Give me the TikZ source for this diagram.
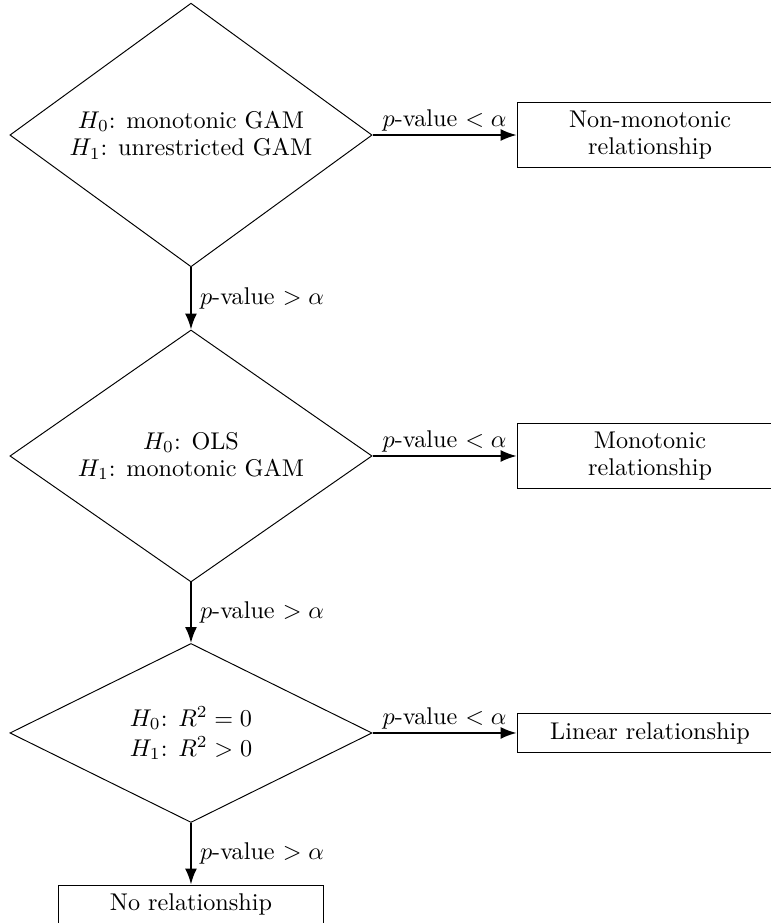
\documentclass[tikz,border=0pt]{standalone}
\usetikzlibrary{shapes.geometric, arrows.meta, positioning}

\begin{document}
\begin{tikzpicture}[
    >=Latex,
    test/.style={draw, diamond, inner sep=0pt, minimum width=5.26cm, align=center, font=\fontsize{10}{11.2}\selectfont},
    outcome/.style={draw, rectangle, minimum width=3.86cm, align=center, font=\fontsize{10}{11.2}\selectfont},
    flow/.style={->, thick}
]
\useasboundingbox (-2.774,0) rectangle (8.424,-13.406);
\node[test, minimum height=3.83cm, aspect=1.37] (MonoTest) at (0,-1.961) {$H_0$: monotonic GAM \\ $H_1$: unrestricted GAM};
\node[test, minimum height=3.66cm, aspect=1.44] (OLSTest) at (0,-6.623) {$H_0$: OLS \\ $H_1$: monotonic GAM};
\node[test, minimum height=2.60cm, aspect=2.02] (RSqTest) at (0,-10.646) {$H_0$: $R^2 = 0$ \\[1.2pt] $H_1$: $R^2 > 0$};
\node[outcome, minimum height=0.915cm] (NonMono) at (6.667,-1.961) {Non-monotonic \\ relationship};
\node[outcome, minimum height=0.915cm] (Mono) at (6.667,-6.623) {Monotonic \\ relationship};
\node[outcome, minimum height=0.552cm] (Linear) at (6.667,-10.646) {Linear relationship};
\node[outcome, minimum height=0.552cm] (NoRel) at (0,-13.130) {No relationship};

\draw[flow] (MonoTest.east) -- (NonMono.west) node[midway, above, inner sep=1pt] {$p$-value $< \alpha$};
\draw[flow] (OLSTest.east) -- (Mono.west) node[midway, above, inner sep=1pt] {$p$-value $< \alpha$};
\draw[flow] (RSqTest.east) -- (Linear.west) node[midway, above, inner sep=1pt] {$p$-value $< \alpha$};
\draw[flow] (MonoTest.south) -- (OLSTest.north) node[midway, right] {$p$-value $> \alpha$};
\draw[flow] (OLSTest.south) -- (RSqTest.north) node[midway, right] {$p$-value $> \alpha$};
\draw[flow] (RSqTest.south) -- (NoRel.north) node[midway, right] {$p$-value $> \alpha$};
\end{tikzpicture}
\end{document}
